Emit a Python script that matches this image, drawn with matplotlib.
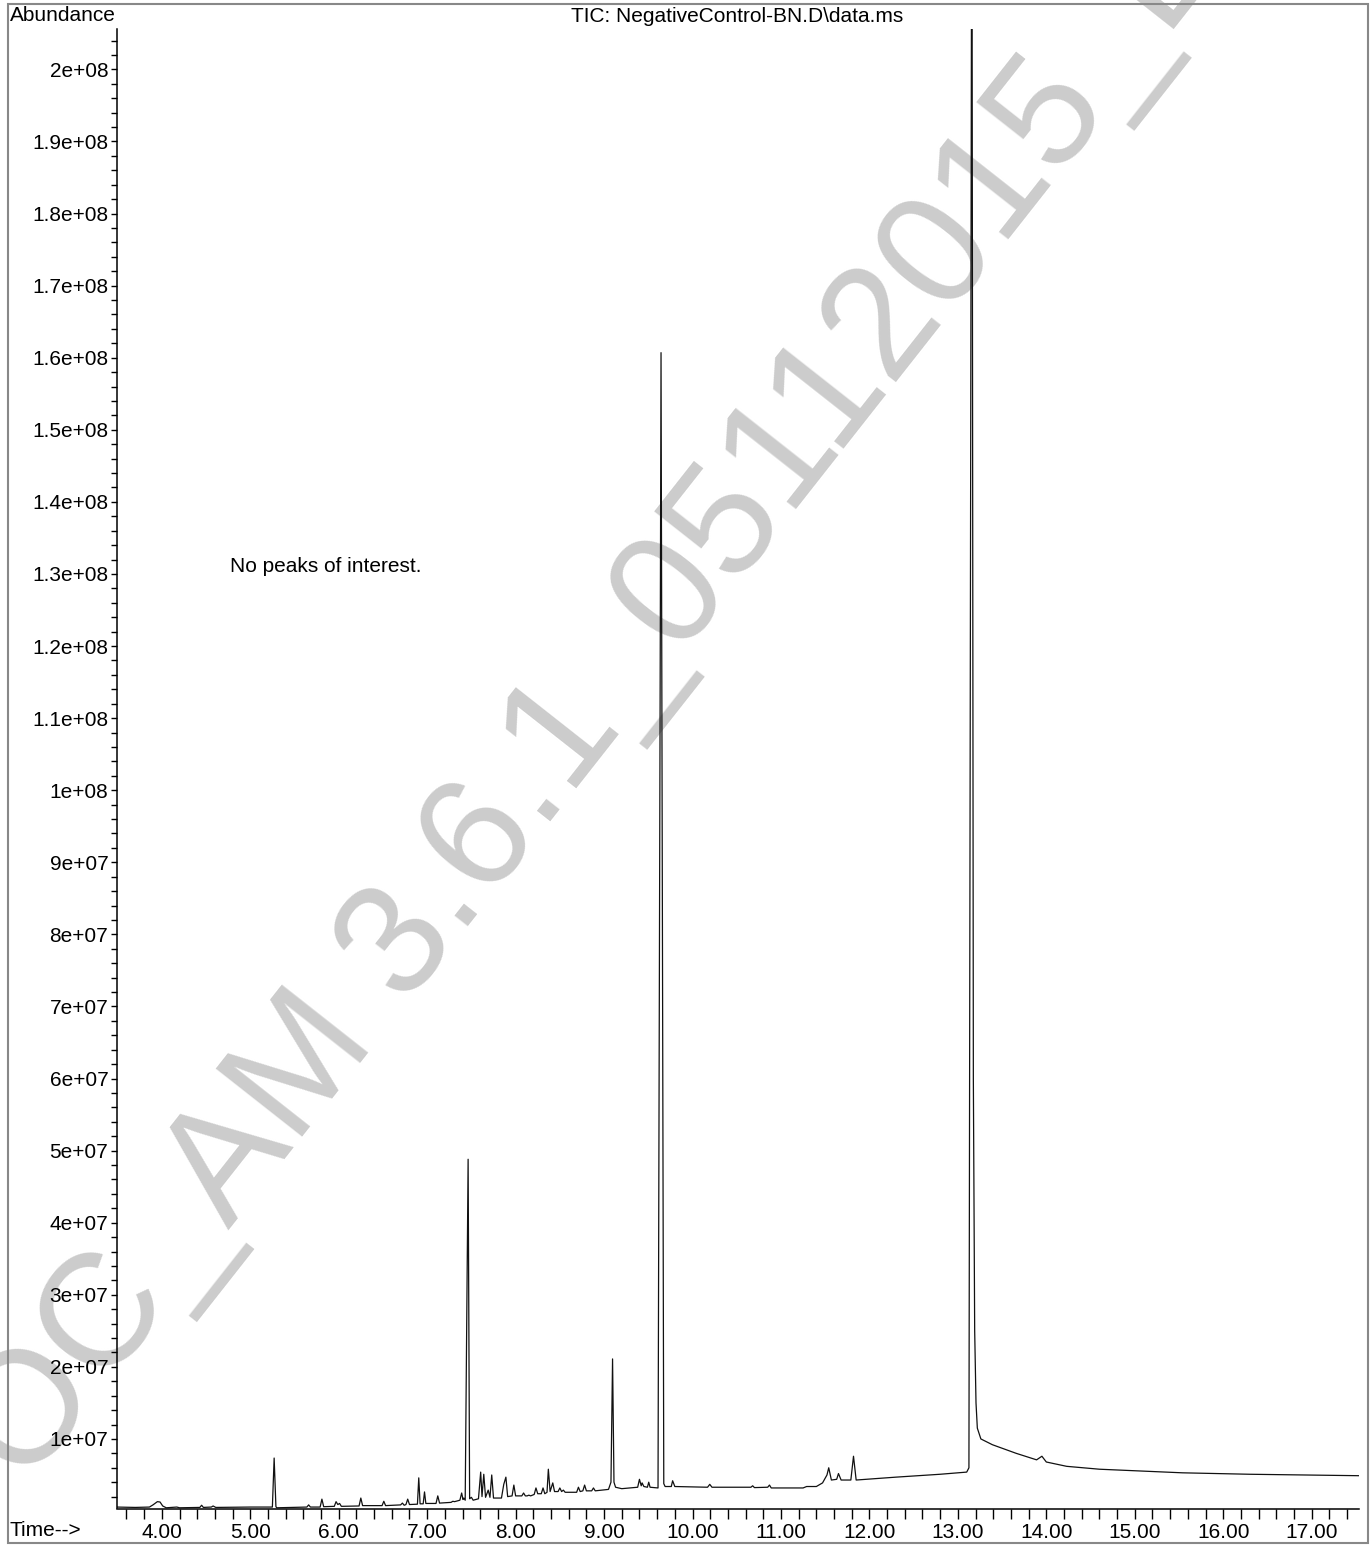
import numpy as np
import matplotlib
matplotlib.use('Agg')
import matplotlib.pyplot as plt
from matplotlib.patches import Rectangle
from matplotlib.ticker import MultipleLocator, FuncFormatter

plt.rcParams['font.family'] = ['Liberation Sans', 'DejaVu Sans']

# trace vertices: time (min), abundance (1e6 counts)
trace_time = [
    3.49, 3.70, 3.86, 3.90, 3.95, 3.98, 4.01, 4.05, 4.17, 4.20, 4.43, 4.45, 4.47,
    4.56, 4.58, 4.61, 5.00, 5.25, 5.27, 5.29, 5.30, 5.64, 5.66, 5.68, 5.79, 5.81,
    5.83, 5.95, 5.97, 5.99, 6.01, 6.03, 6.23, 6.25, 6.27, 6.49, 6.51, 6.53, 6.70,
    6.72, 6.74, 6.76, 6.78, 6.80, 6.89, 6.905, 6.92, 6.955, 6.97, 6.985, 7.05,
    7.10, 7.12, 7.14, 7.27, 7.29, 7.31, 7.37, 7.39, 7.405, 7.415, 7.43, 7.463,
    7.48, 7.50, 7.52, 7.58, 7.605, 7.62, 7.64, 7.66, 7.69, 7.71, 7.73, 7.75,
    7.84, 7.866, 7.89, 7.91, 7.96, 7.98, 8.00, 8.07, 8.09, 8.11, 8.13, 8.15,
    8.17, 8.21, 8.23, 8.25, 8.29, 8.31, 8.33, 8.355, 8.37, 8.39, 8.42, 8.44,
    8.48, 8.50, 8.52, 8.54, 8.56, 8.69, 8.71, 8.73, 8.76, 8.78, 8.80, 8.86,
    8.88, 8.90, 9.05, 9.078, 9.096, 9.112, 9.13, 9.20, 9.38, 9.40, 9.42, 9.43,
    9.45, 9.49, 9.505, 9.52, 9.61, 9.644, 9.675, 9.69, 9.76, 9.775, 9.80, 10.17,
    10.195, 10.22, 10.66, 10.68, 10.70, 10.85, 10.87, 10.89, 11.25, 11.29, 11.40,
    11.47, 11.52, 11.54, 11.57, 11.63, 11.65, 11.68, 11.79, 11.82, 11.85, 12.30,
    12.80, 13.10, 13.125, 13.158, 13.175, 13.19, 13.205, 13.22, 13.26, 13.39,
    13.66, 13.89, 13.95, 14.00, 14.23, 14.60, 14.98, 15.54, 16.30, 17.535,
]
trace_abund = [
    0.55, 0.50, 0.55, 0.85, 1.30, 1.25, 0.70, 0.45, 0.55, 0.45, 0.50, 0.80, 0.50,
    0.55, 0.70, 0.50, 0.55, 0.55, 7.35, 0.60, 0.45, 0.55, 0.85, 0.55, 0.55, 1.65,
    0.60, 0.65, 1.30, 0.90, 1.05, 0.65, 0.70, 1.80, 0.75, 0.75, 1.35, 0.75, 0.85,
    1.10, 0.80, 0.90, 1.65, 0.90, 0.95, 4.60, 1.00, 1.00, 2.65, 1.05, 1.05,
    1.05, 2.10, 1.10, 1.20, 1.35, 1.30, 1.50, 2.50, 1.60, 1.80, 1.50, 48.8,
    1.70, 1.90, 1.50, 1.70, 5.40, 2.00, 5.10, 1.90, 2.90, 1.90, 5.00, 1.80,
    1.80, 3.70, 4.70, 2.00, 2.10, 3.60, 2.10, 2.10, 2.50, 2.10, 2.10, 2.20,
    2.10, 2.30, 3.20, 2.40, 2.40, 3.20, 2.40, 2.60, 5.80, 2.70, 3.90, 2.70,
    2.70, 3.20, 2.70, 2.90, 2.60, 2.60, 3.30, 2.70, 2.80, 3.60, 2.80, 2.80,
    3.20, 2.80, 3.00, 4.00, 21.1, 4.00, 3.30, 3.10, 3.30, 4.40, 3.50, 3.90,
    3.40, 3.30, 4.00, 3.30, 3.20, 160.7, 3.80, 3.40, 3.40, 4.20, 3.40, 3.30,
    3.70, 3.30, 3.30, 3.50, 3.25, 3.30, 3.60, 3.20, 3.20, 3.40, 3.40,
    3.90, 5.00, 6.00, 4.30, 4.40, 5.20, 4.30, 4.30, 7.60, 4.30, 4.70,
    5.10, 5.40, 6.00, 240.0, 60.0, 25.0, 15.0, 11.5, 10.0, 9.20,
    8.00, 7.10, 7.60, 6.80, 6.20, 5.80, 5.60, 5.30, 5.10, 4.90,
]
time_ticks = list(range(4, 18))
abund_ticks = [i * 1e7 for i in range(1, 21)]
title = 'TIC: NegativeControl-BN.D\\data.ms'
note = 'No peaks of interest.'
watermark = 'POC_AM 3.6.1_05112015_D'

W, H = 1372, 1547
fig = plt.figure(figsize=(W / 100, H / 100), dpi=100)
ax = fig.add_axes([116.7 / W, 1 - 1508.5 / H, (1359 - 116.7) / W, (1508.5 - 29) / H])
ax.patch.set_alpha(0)

fig.text(-40 / W, 1 - 1572 / H, watermark, fontsize=115, color='#cccccc',
         rotation=51.8, rotation_mode='anchor', ha='left', va='baseline', zorder=-1)

ax.plot(trace_time, np.array(trace_abund) * 1e6, color='#111111', lw=0.9)

ax.set_xlim(3.49, 17.535)
ax.set_ylim(0.35e6, 2.056e8)
ax.spines['top'].set_visible(False)
ax.spines['right'].set_visible(False)
for s in ('left', 'bottom'):
    ax.spines[s].set_linewidth(1.1)

ax.set_xticks(time_ticks)
ax.xaxis.set_minor_locator(MultipleLocator(0.2))
ax.xaxis.set_major_formatter(FuncFormatter(lambda v, p: '%.2f' % v))
ax.set_yticks(abund_ticks)
ax.yaxis.set_minor_locator(MultipleLocator(2e6))
ax.yaxis.set_major_formatter(FuncFormatter(lambda v, p: '%g' % v))
ax.tick_params(axis='x', which='both', length=7, width=1, pad=3.5, labelsize=15)
ax.tick_params(axis='y', which='both', length=4, width=1, pad=2, labelsize=15)

ax.text(4.772, 1.31e8, note, fontsize=15, va='center', ha='left')
fig.text(10 / W, 1 - 6 / H, 'Abundance', fontsize=15, ha='left', va='top')
fig.text(10 / W, 1 - 1531 / H, 'Time-->', fontsize=15, ha='left', va='center')
fig.text(737 / W, 1 - 17 / H, title, fontsize=15, ha='center', va='center')

fig.patches.append(Rectangle((8 / W, 1 - 1543 / H), 1360 / W, 1539 / H,
                             transform=fig.transFigure, fill=False,
                             ec='#888888', lw=1.5))

fig.savefig('out.png', dpi=100)
